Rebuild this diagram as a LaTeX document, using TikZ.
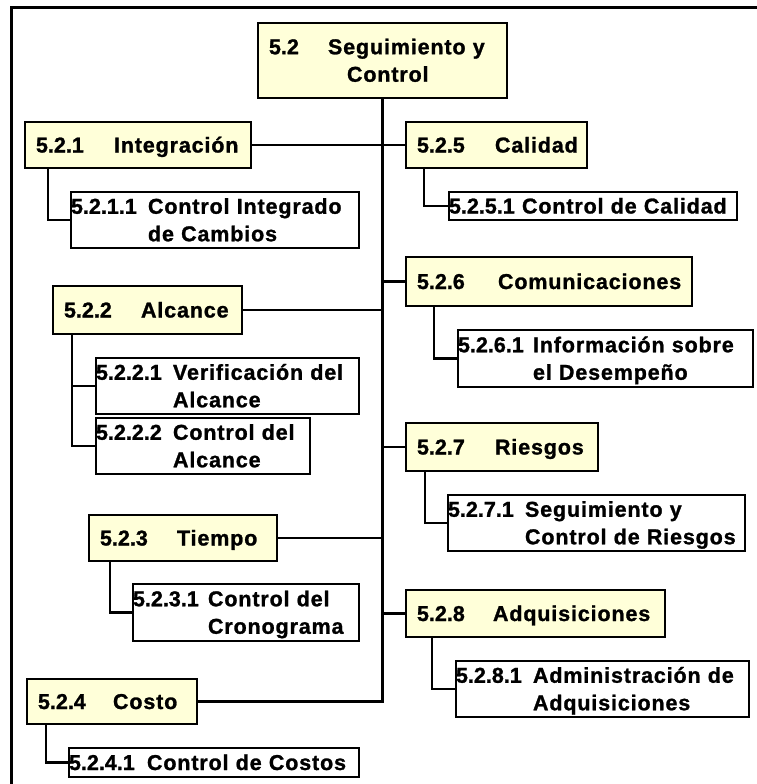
\documentclass[tikz,border=0pt]{standalone}
\usepackage{fontspec}
\setmainfont{Liberation Sans}[BoldFont={Liberation Sans Bold}]
\newfontfamily\wbsfont{Liberation Sans Bold}[LetterSpace=4, FakeBold=1.2]
\newfontfamily\wbsnum{Liberation Sans Bold}[FakeBold=1.2]
\usetikzlibrary{calc}
\definecolor{cream}{HTML}{FFFFD9}
\definecolor{ink}{HTML}{000000}
% number column of fixed width, then the (possibly two-line) title
\newcommand\wbsentry[3]{\raisebox{-2pt}[\height][\depth]{%
  \begin{tabular}{@{}p{#1}@{}l@{}}{\wbsnum #2} & #3\end{tabular}}}

\begin{document}
\begin{tikzpicture}[x=1pt,y=-1pt,
  every node/.style={font=\wbsfont\fontsize{21.5}{27.5}\selectfont},
  wbsbox/.style={draw=ink, line width=2.1pt, anchor=north west, align=left,
                 inner ysep=0pt, outer sep=0pt},
  phase/.style={wbsbox, fill=cream, inner xsep=11pt},
  task/.style={wbsbox, fill=white, inner xsep=0pt},
  link/.style={draw=ink, line width=2.1pt}]

\useasboundingbox (0,0) rectangle (757,784);
\fill[white] (0,0) rectangle (757,784);
% page frame: top and left rules
\draw[ink, line width=3pt] (757,8) -- (11,8) -- (11,784);

% root
\node[phase, text width=227pt, minimum height=75pt] (root) at (258,23)
  {\wbsentry{59pt}{5.2}{Seguimiento y\\ & \hspace*{19pt}Control}};

% left column
\node[phase, text width=204pt, minimum height=46pt] (n521) at (25,122)
  {\wbsentry{78pt}{5.2.1}{Integración}};
\node[task, text width=288pt, minimum height=56pt] (n5211) at (71,192)
  {\wbsentry{77pt}{5.2.1.1}{Control Integrado\\ & de Cambios}};

\node[phase, text width=167pt, minimum height=48pt] (n522) at (53,286)
  {\wbsentry{77pt}{5.2.2}{Alcance}};
\node[task, text width=263pt, minimum height=56pt] (n5221) at (96,358)
  {\wbsentry{77pt}{5.2.2.1}{Verificación del\\ & Alcance}};
\node[task, text width=214pt, minimum height=56pt] (n5222) at (96,418)
  {\wbsentry{77pt}{5.2.2.2}{Control del\\ & Alcance}};

\node[phase, text width=166pt, minimum height=46pt] (n523) at (89,515)
  {\wbsentry{77pt}{5.2.3}{Tiempo}};
\node[task, text width=226pt, minimum height=57pt] (n5231) at (133,584)
  {\wbsentry{75pt}{5.2.3.1}{Control del\\ & Cronograma}};

\node[phase, text width=148pt, minimum height=45pt] (n524) at (27,679)
  {\wbsentry{75pt}{5.2.4}{Costo}};
\node[task, text width=290pt, minimum height=29pt] (n5241) at (69,748)
  {\wbsentry{78pt}{5.2.4.1}{Control de Costos}};

% right column
\node[phase, text width=159pt, minimum height=46pt] (n525) at (406,122)
  {\wbsentry{78pt}{5.2.5}{Calidad}};
\node[task, text width=288pt, minimum height=28pt] (n5251) at (449,192)
  {\wbsentry{73pt}{5.2.5.1}{Control de Calidad}};

\node[phase, text width=264pt, minimum height=49pt] (n526) at (406,257)
  {\wbsentry{81pt}{5.2.6}{Comunicaciones}};
\node[task, text width=295pt, minimum height=57pt] (n5261) at (458,330)
  {\wbsentry{75pt}{5.2.6.1}{Información sobre\\ & el Desempeño}};

\node[phase, text width=170pt, minimum height=48pt] (n527) at (406,423)
  {\wbsentry{78pt}{5.2.7}{Riesgos}};
\node[task, text width=297pt, minimum height=56pt] (n5271) at (448,495)
  {\wbsentry{77pt}{5.2.7.1}{Seguimiento y\\ & Control de Riesgos}};

\node[phase, text width=237pt, minimum height=47pt] (n528) at (406,590)
  {\wbsentry{76pt}{5.2.8}{Adquisiciones}};
\node[task, text width=293pt, minimum height=56pt] (n5281) at (456,661)
  {\wbsentry{77pt}{5.2.8.1}{Administración de\\ & Adquisiciones}};

% trunk and phase connectors
\draw[link] (n524.east) -| (root.south);
\draw[link] (n521.east) -- (n525.west);
\draw[link] (n522.east) -- (n522.east -| root.south);
\draw[link] (n523.east) -- (n523.east -| root.south);
\draw[link] (root.south |- n526.west) -- (n526.west);
\draw[link] (root.south |- n527.west) -- (n527.west);
\draw[link] (root.south |- n528.west) -- (n528.west);

% elbow connectors from each phase down to its tasks
\coordinate (s521) at ([xshift=23pt]n521.south west);
\coordinate (s522) at ([xshift=19pt]n522.south west);
\coordinate (s523) at ([xshift=21pt]n523.south west);
\coordinate (s524) at ([xshift=19pt]n524.south west);
\coordinate (s525) at ([xshift=18pt]n525.south west);
\coordinate (s526) at ([xshift=28pt]n526.south west);
\coordinate (s527) at ([xshift=19pt]n527.south west);
\coordinate (s528) at ([xshift=26pt]n528.south west);
\draw[link] (s521) |- (n5211.west);
\draw[link] (s522) |- (n5222.west);
\draw[link] (s522 |- n5221.west) -- (n5221.west);
\draw[link] (s523) |- (n5231.west);
\draw[link] (s524) |- (n5241.west);
\draw[link] (s525) |- (n5251.west);
\draw[link] (s526) |- (n5261.west);
\draw[link] (s527) |- (n5271.west);
\draw[link] (s528) |- (n5281.west);
\end{tikzpicture}
\end{document}
